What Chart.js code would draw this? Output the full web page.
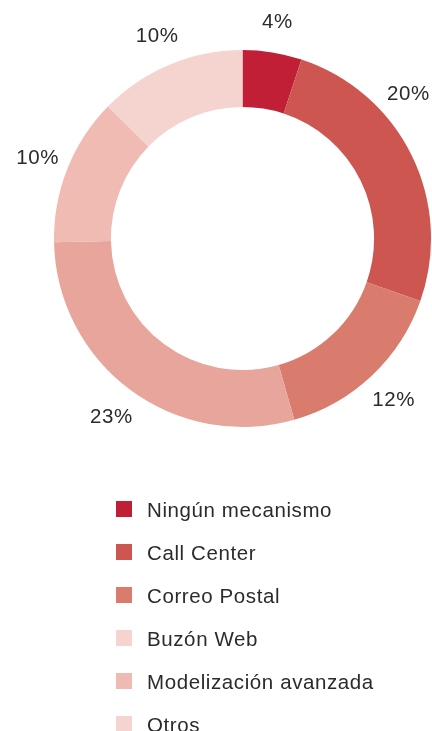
<!DOCTYPE html>
<html>
<head>
<meta charset="utf-8">
<script src="https://cdn.jsdelivr.net/npm/chart.js@4/dist/chart.umd.min.js"></script>
<style>
  html, body { margin: 0; padding: 0; background: #fff; }
  #wrap { width: 432px; height: 731px; }
</style>
</head>
<body>
<div id="wrap"><canvas id="mycanvas" width="432" height="731"></canvas></div>
<script>
// slice values (printed labels) in drawing order, clockwise from top
var sliceValues = [4, 20, 12, 23, 10, 10];
var sliceLabels = ['4%', '20%', '12%', '23%', '10%', '10%'];
var sliceColors = ['#c01f36', '#cd5650', '#d97b6d', '#e7a59b', '#efbbb3', '#f5d3ce'];

// legend as printed under the chart
var legendNames = ['Ningún mecanismo', 'Call Center', 'Correo Postal', 'Buzón Web', 'Modelización avanzada', 'Otros'];
var legendColors = ['#c01f36', '#cd5650', '#d97b6d', '#f5d4cf', '#efbab3', '#f5d3ce'];

var textColor = '#2b2b2b';
var fontFamily = '"Liberation Sans", Arial, Helvetica, sans-serif';

// percentage labels outside each slice
var outsideLabels = {
  id: 'outsideLabels',
  afterDatasetsDraw: function(chart) {
    var ctx = chart.ctx;
    var meta = chart.getDatasetMeta(0);
    ctx.save();
    ctx.font = '20.5px ' + fontFamily;
    ctx.letterSpacing = '0.6px';
    ctx.fillStyle = textColor;
    ctx.textAlign = 'center';
    ctx.textBaseline = 'alphabetic';
    meta.data.forEach(function(arc, i) {
      var p = arc.getProps(['x', 'y', 'startAngle', 'endAngle', 'outerRadius'], true);
      var mid = (p.startAngle + p.endAngle) / 2;
      var r = p.outerRadius + 32;
      var text = sliceLabels[i];
      var half = ctx.measureText(text).width / 2;
      var x = p.x + Math.cos(mid) * r;
      var y = p.y + Math.sin(mid) * r;
      // slide along the circle until the label fits inside the canvas
      var step = 0;
      while ((x + half > chart.width - 2 || x - half < 2) && step < 90) {
        mid += (Math.sin(mid) < 0 ? -1 : 1) * (x > p.x ? 1 : -1) * Math.PI / 360;
        x = p.x + Math.cos(mid) * r;
        y = p.y + Math.sin(mid) * r;
        step++;
      }
      ctx.fillText(text, x, y + 7);
    });
    ctx.restore();
  }
};

// vertical legend under the ring
var listLegend = {
  id: 'listLegend',
  afterDraw: function(chart) {
    var ctx = chart.ctx;
    ctx.save();
    ctx.font = '20.5px ' + fontFamily;
    ctx.letterSpacing = '0.6px';
    ctx.textBaseline = 'alphabetic';
    ctx.textAlign = 'left';
    for (var i = 0; i < legendNames.length; i++) {
      var top = 501 + i * 43;
      ctx.fillStyle = legendColors[i];
      ctx.fillRect(116, top, 16, 16);
      ctx.fillStyle = textColor;
      ctx.fillText(legendNames[i], 147, top + 15.5);
    }
    ctx.restore();
  }
};

var ctx = document.getElementById('mycanvas');

var chart = new Chart(ctx, {
  type: 'doughnut',
  data: {
    labels: legendNames,
    datasets: [
      {
        data: sliceValues,
        backgroundColor: sliceColors,
        borderWidth: 0
      }
    ]
  },
  options: {
    responsive: false,
    animation: false,
    cutout: '69.8%',
    layout: {
      padding: { left: 54, right: 1, top: 50, bottom: 304 }
    },
    plugins: {
      legend: { display: false },
      tooltip: { enabled: false }
    }
  },
  plugins: [outsideLabels, listLegend]
});
</script>
</body>
</html>
